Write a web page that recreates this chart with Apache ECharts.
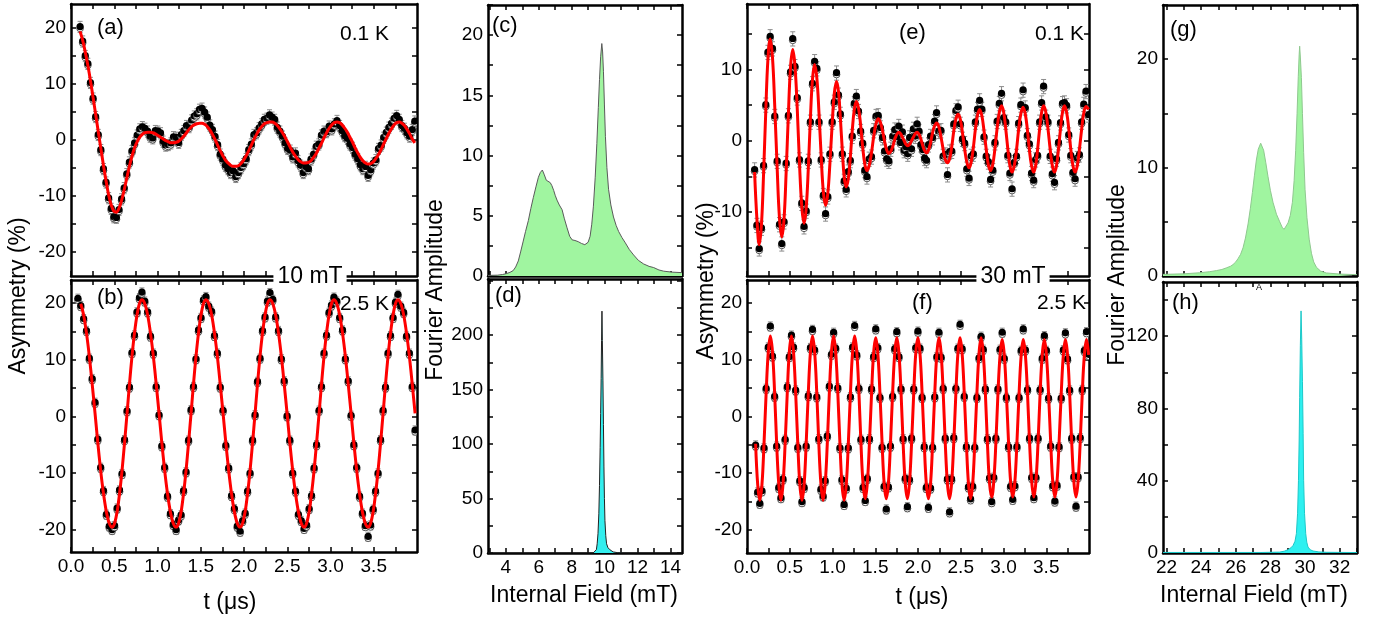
<!DOCTYPE html>
<html><head><meta charset="utf-8">
<script src="https://cdn.jsdelivr.net/npm/echarts@6/dist/echarts.min.js"></script>
<style>html,body{margin:0;padding:0;background:#fff}#chart{width:1376px;height:618px}</style>
</head><body><div id="chart"></div>
<script>
// ---------- (a) 10 mT, 0.1 K : time (us), fit and data asymmetry (%) ----------
const tA = [0.105,0.135,0.165,0.195,0.225,0.255,0.285,0.315,0.345,0.375,
0.405,0.435,0.465,0.495,0.525,0.555,0.585,0.615,0.645,0.675,
0.705,0.735,0.765,0.795,0.825,0.855,0.885,0.915,0.945,0.975,
1.005,1.035,1.065,1.095,1.125,1.155,1.185,1.215,1.245,1.275,
1.305,1.335,1.365,1.395,1.425,1.455,1.485,1.515,1.545,1.575,
1.605,1.635,1.665,1.695,1.725,1.755,1.785,1.815,1.845,1.875,
1.905,1.935,1.965,1.995,2.025,2.055,2.085,2.115,2.145,2.175,
2.205,2.235,2.265,2.295,2.325,2.355,2.385,2.415,2.445,2.475,
2.505,2.535,2.565,2.595,2.625,2.655,2.685,2.715,2.745,2.775,
2.805,2.835,2.865,2.895,2.925,2.955,2.985,3.015,3.045,3.075,
3.105,3.135,3.165,3.195,3.225,3.255,3.285,3.315,3.345,3.375,
3.405,3.435,3.465,3.495,3.525,3.555,3.585,3.615,3.645,3.675,
3.705,3.735,3.765,3.795,3.825,3.855,3.885,3.915,3.945,3.975];
const fitA = [19.4,17.8,15.7,13.3,10.6,7.6,4.6,1.5,-1.5,-4.5,
-7.3,-9.8,-11.6,-12.7,-12.9,-12.2,-10.8,-8.9,-6.8,-4.7,
-2.9,-1.4,-0.3,0.5,1.0,1.3,1.4,1.4,1.3,1.1,
0.8,0.5,0.2,-0.1,-0.3,-0.5,-0.5,-0.4,-0.2,0.2,
0.7,1.3,1.9,2.4,2.7,2.9,3.0,3.0,2.8,2.4,
1.8,1.0,0.1,-0.9,-1.9,-2.8,-3.6,-4.1,-4.5,-4.7,
-4.7,-4.6,-4.2,-3.6,-2.8,-1.9,-0.9,0.1,1.0,1.8,
2.4,2.9,3.1,3.2,3.2,3.0,2.6,2.0,1.3,0.5,
-0.4,-1.3,-2.2,-2.9,-3.5,-3.9,-4.1,-4.1,-4.0,-3.7,
-3.1,-2.4,-1.5,-0.6,0.4,1.3,2.1,2.7,3.1,3.2,
3.1,2.7,2.1,1.4,0.5,-0.4,-1.4,-2.3,-3.1,-3.7,
-4.1,-4.3,-4.2,-3.9,-3.3,-2.6,-1.7,-0.7,0.3,1.2,
2.0,2.7,3.1,3.2,3.0,2.6,1.9,1.1,0.2,-0.5];
const datA = [20.2,17.6,15.0,13.6,10.2,7.4,4.1,0.9,-1.8,-5.2,
-7.6,-10.4,-12.3,-13.8,-13.9,-12.5,-10.6,-8.6,-6.1,-4.0,
-2.0,-0.6,0.8,1.9,2.3,2.0,1.5,0.6,0.3,1.6,
1.5,1.2,-0.3,-1.0,-0.9,-0.6,0.5,0.4,-0.5,0.9,
1.6,2.5,2.3,3.5,4.2,4.6,5.4,5.6,4.9,4.0,
2.6,1.8,0.6,-0.9,-2.6,-3.5,-4.6,-5.2,-5.9,-5.6,
-6.6,-5.9,-5.0,-4.3,-3.4,-1.8,-0.8,0.9,1.2,2.1,
2.8,3.6,3.8,4.4,4.0,3.6,2.2,1.5,0.6,-0.6,
-1.6,-1.9,-3.1,-2.4,-3.8,-4.6,-5.9,-4.8,-5.2,-3.5,
-2.6,-1.2,-0.8,0.8,1.5,1.4,2.4,1.9,2.8,3.4,
2.5,1.6,0.7,0.2,-0.8,-1.4,-2.6,-3.4,-4.5,-5.2,
-4.8,-6.4,-5.4,-4.2,-3.6,-1.6,-1.0,0.4,1.3,2.2,
2.9,3.8,4.3,3.6,2.5,2.0,1.2,0.6,1.8,3.3];
const errA = 1.0;

// ---------- (b) 10 mT, 2.5 K ----------
const tB = [0.08,0.113,0.146,0.179,0.212,0.245,0.278,0.31,0.343,0.376,0.409,0.442,
0.475,0.504,0.533,0.561,0.59,0.619,0.648,0.676,0.705,0.734,0.763,0.791,
0.82,0.853,0.886,0.919,0.952,0.985,1.018,1.05,1.083,1.116,1.149,1.182,
1.215,1.244,1.273,1.301,1.33,1.359,1.388,1.416,1.445,1.474,1.503,1.531,
1.56,1.593,1.626,1.659,1.692,1.725,1.758,1.79,1.823,1.856,1.889,1.922,
1.955,1.984,2.013,2.041,2.07,2.099,2.128,2.156,2.185,2.214,2.243,2.271,
2.3,2.333,2.366,2.399,2.432,2.465,2.498,2.53,2.563,2.596,2.629,2.662,
2.695,2.724,2.753,2.781,2.81,2.839,2.868,2.896,2.925,2.954,2.983,3.011,
3.04,3.073,3.106,3.139,3.172,3.205,3.238,3.27,3.303,3.336,3.369,3.402,
3.435,3.464,3.493,3.521,3.55,3.579,3.608,3.636,3.665,3.694,3.723,3.751,
3.78,3.813,3.846,3.879,3.912,3.945,3.978];
const fitB = [null,19.9,17.9,14.7,10.6,5.7,0.5,-4.7,-9.6,-13.7,-16.9,-18.9,
-19.6,-18.9,-16.9,-13.7,-9.6,-4.7,0.5,5.7,10.6,14.7,17.9,19.9,
20.6,19.9,17.9,14.7,10.6,5.7,0.5,-4.7,-9.6,-13.7,-16.9,-18.9,
-19.6,-18.9,-16.9,-13.7,-9.6,-4.7,0.5,5.7,10.6,14.7,17.9,19.9,
20.6,19.9,17.9,14.7,10.6,5.7,0.5,-4.7,-9.6,-13.7,-16.9,-18.9,
-19.6,-18.9,-16.9,-13.7,-9.6,-4.7,0.5,5.7,10.6,14.7,17.9,19.9,
20.6,19.9,17.9,14.7,10.6,5.7,0.5,-4.7,-9.6,-13.7,-16.9,-18.9,
-19.6,-18.9,-16.9,-13.7,-9.6,-4.7,0.5,5.7,10.6,14.7,17.9,19.9,
20.6,19.9,17.9,14.7,10.6,5.7,0.5,-4.7,-9.6,-13.7,-16.9,-18.9,
-19.6,-18.9,-16.9,-13.7,-9.6,-4.7,0.5,5.7,10.6,14.7,17.9,19.9,
20.6,19.9,17.9,14.7,10.6,5.7,0.5];
const datB = [20.8,19.5,17.2,15.1,10.2,6.6,2.4,-4.1,-9.1,-13.2,-17.4,-19.5,
-20.1,-19.4,-16.3,-13.1,-10.2,-4.2,0.9,5.1,11.2,14.3,18.4,20.9,
21.9,20.3,18.4,14.1,11.1,5.2,0.2,-5.3,-9.1,-14.2,-17.3,-19.2,
-20.1,-18.4,-17.5,-13.2,-9.9,-4.3,1.1,5.2,10.1,15.2,17.4,20.5,
21.1,19.4,18.5,14.2,11.1,5.1,1.0,-5.2,-9.2,-14.1,-16.4,-19.5,
-20.4,-18.5,-17.2,-13.3,-10.1,-4.3,0.2,6.1,10.2,15.1,17.5,20.3,
21.8,20.6,17.5,15.1,10.1,6.2,0.0,-4.3,-10.1,-13.3,-17.4,-18.5,
-19.9,-19.3,-16.4,-14.1,-9.2,-5.1,1.0,5.2,11.1,14.3,18.3,19.6,
21.0,20.3,17.4,15.2,10.1,6.2,0.1,-5.1,-9.1,-14.2,-17.2,-19.4,
-21.3,-19.3,-16.5,-13.3,-10.1,-4.2,1.0,5.1,11.1,14.2,17.4,20.1,
21.5,19.4,18.3,14.1,11.1,5.2,-2.5];
const errB = 0.8;

// ---------- (e) 30 mT, 0.1 K ----------
const tE = [0.089,0.116,
0.143,0.169,0.194,0.22,0.245, 0.271,0.298,0.325,0.353,0.38,
0.407,0.433,0.458,0.484,0.509, 0.535,0.561,0.588,0.614,0.641,
0.667,0.692,0.717,0.741,0.766, 0.791,0.817,0.842,0.868,0.893,
0.919,0.945,0.97,0.996,1.021, 1.047,1.07,1.092,1.115,1.137,
1.16,1.184,1.208,1.231,1.255, 1.279,1.304,1.329,1.353,1.378,
1.403,1.429,1.456,1.482,1.509, 1.535,1.56,1.585,1.609,1.634,
1.659,1.682,1.705,1.729,1.752, 1.775,1.796,1.817,1.838,1.859,
1.88,1.902,1.924,1.946,1.968, 1.99,2.012,2.034,2.056,2.078,
2.1,2.123,2.147,2.17,2.194, 2.217,2.243,2.268,2.294,2.319,
2.345,2.37,2.395,2.419,2.444, 2.469,2.495,2.52,2.546,2.571,
2.597,2.622,2.647,2.671,2.696, 2.721,2.747,2.772,2.798,2.823,
2.849,2.875,2.9,2.926,2.951, 2.977,3.002,3.026,3.051,3.075,
3.1,3.126,3.152,3.177,3.203, 3.229,3.254,3.279,3.303,3.328,
3.353,3.376,3.399,3.423,3.446, 3.469,3.495,3.52,3.546,3.571,
3.597,3.62,3.643,3.667,3.69, 3.713,3.738,3.763,3.787,3.812,
3.837,3.863,3.888,3.914,3.939, 3.965,3.995];
const fitE = [-4.4,-11.0,
-14.6,-11.8,-4.6,4.3,11.5, 14.3,11.7,4.7,-3.9,-10.9,
-13.5,-11.0,-4.4,3.7,10.3, 12.8,10.5,4.4,-3.2,-9.3,
-11.6,-9.5,-3.9,3.0,8.6, 10.7,8.8,3.9,-2.3,-7.2,
-9.1,-7.4,-3.1,2.3,6.6, 8.3,6.9,3.2,-1.4,-5.1,
-6.5,-5.4,-2.4,1.4,4.4, 5.5,4.6,2.2,-0.9,-3.3,
-4.2,-3.5,-1.7,0.6,2.4, 3.1,2.6,1.4,-0.1,-1.3,
-1.8,-1.5,-0.8,0.2,0.9, 1.2,1.0,0.5,0.0,-0.5,
-0.7,-0.5,0.0,0.5,1.0, 1.2,0.9,0.2,-0.7,-1.4,
-1.7,-1.3,-0.3,1.1,2.1, 2.5,2.0,0.6,-1.2,-2.6,
-3.1,-2.5,-0.8,1.4,3.1, 3.7,3.0,1.1,-1.2,-3.0,
-3.8,-3.0,-1.0,1.6,3.6, 4.4,3.5,1.4,-1.2,-3.4,
-4.2,-3.3,-1.1,1.8,4.0, 4.9,4.0,1.7,-1.2,-3.5,
-4.4,-3.5,-1.3,1.6,3.8, 4.7,3.8,1.6,-1.3,-3.5,
-4.4,-3.5,-1.2,1.7,4.0, 4.9,4.0,1.7,-1.2,-3.5,
-4.4,-3.5,-1.2,1.7,4.0, 4.9,4.0,1.7,-1.2,-3.5,
-4.4,-3.5,-1.2,1.6,3.9, 4.8,4.4];
const datE = [-4.1,-11.9,
-15.2,-12.3,-3.5,5.0,12.4, 14.6,12.9,3.4,-2.9,-11.8,
-14.5,-11.4,-3.2,3.5,9.6, 14.3,10.4,6.0,-2.7,-8.8,
-12.1,-9.9,-2.9,2.6,8.0, 11.1,10.1,2.6,-2.7,-7.7,
-10.3,-7.9,-1.9,2.6,5.4, 9.5,6.4,3.7,-1.9,-5.7,
-6.9,-4.4,-2.8,0.6,5.2, 6.2,4.1,1.3,-0.4,-4.2,
-5.1,-2.6,-2.3,1.4,3.4, 3.5,1.8,0.4,-1.5,-2.6,
-2.9,-1.2,0.6,1.5,0.5, 2.0,-0.3,1.2,-1.4,-0.9,
-1.9,0.4,-1.2,1.6,0.6, 2.3,1.3,-0.6,-1.3,-2.5,
-2.8,-0.6,0.6,0.4,2.7, 3.9,1.3,1.4,-2.2,-2.0,
-4.8,-1.6,-1.5,2.3,4.2, 4.7,2.3,0.2,-0.4,-4.0,
-5.3,-2.2,-1.9,2.6,4.4, 5.6,4.4,0.5,-2.2,-3.0,
-5.5,-4.2,-0.3,2.7,5.2, 6.6,3.2,2.6,-2.1,-4.6,
-6.8,-3.1,-2.2,2.4,5.0, 7.1,4.6,0.7,-0.5,-4.6,
-5.6,-2.7,-2.1,2.6,5.3, 7.6,3.3,2.6,-2.2,-4.7,
-5.9,-2.6,-0.3,2.5,5.2, 5.3,4.9,0.8,-2.1,-4.5,
-5.4,-2.5,-2.0,2.6,5.1, 6.9,3.6];
const errE = 1.0;

// ---------- (f) 30 mT, 2.5 K ----------
const tF = [0.101,0.125,
0.15,0.175,0.199,0.224,0.249,0.273,0.298,0.323,0.347,0.372,
0.397,0.421,0.446,0.471,0.495,0.52,0.544,0.569,0.594,0.618,
0.643,0.668,0.692,0.717,0.742,0.766,0.791,0.816,0.84,0.865,
0.89,0.914,0.939,0.963,0.988,1.013,1.037,1.062,1.087,1.111,
1.136,1.161,1.185,1.21,1.235,1.259,1.284,1.309,1.333,1.358,
1.383,1.407,1.432,1.457,1.481,1.506,1.53,1.555,1.58,1.604,
1.629,1.654,1.678,1.703,1.728,1.752,1.777,1.802,1.826,1.851,
1.876,1.9,1.925,1.95,1.974,1.999,2.023,2.048,2.073,2.097,
2.122,2.147,2.171,2.196,2.221,2.245,2.27,2.295,2.319,2.344,
2.369,2.393,2.418,2.443,2.467,2.492,2.516,2.541,2.566,2.59,
2.615,2.64,2.664,2.689,2.714,2.738,2.763,2.788,2.812,2.837,
2.862,2.886,2.911,2.935,2.96,2.985,3.009,3.034,3.059,3.083,
3.108,3.133,3.157,3.182,3.207,3.231,3.256,3.281,3.305,3.33,
3.355,3.379,3.404,3.428,3.453,3.478,3.502,3.527,3.552,3.576,
3.601,3.626,3.65,3.675,3.7,3.724,3.749,3.774,3.798,3.823,
3.848,3.872,3.897,3.921,3.946,3.971,3.995];
const fitF = [-4.8,-12.0,
-14.8,-12.0,-4.8,4.2,11.4,14.2,11.4,4.2,-4.8,-12.0,
-14.8,-12.0,-4.8,4.2,11.4,14.2,11.4,4.2,-4.8,-12.0,
-14.8,-12.0,-4.8,4.2,11.4,14.2,11.4,4.2,-4.8,-12.0,
-14.8,-12.0,-4.8,4.2,11.4,14.2,11.4,4.2,-4.8,-12.0,
-14.8,-12.0,-4.8,4.2,11.4,14.2,11.4,4.2,-4.8,-12.0,
-14.5,-11.8,-4.7,4.1,11.2,13.9,11.2,4.1,-4.7,-11.8,
-14.5,-11.8,-4.7,4.1,11.2,13.9,11.2,4.1,-4.7,-11.8,
-14.5,-11.8,-4.7,4.1,11.2,13.9,11.2,4.1,-4.7,-11.8,
-14.5,-11.8,-4.7,4.1,11.2,13.9,11.2,4.1,-4.7,-11.8,
-14.5,-11.8,-4.7,4.1,11.2,13.9,11.2,4.1,-4.7,-11.8,
-14.5,-11.8,-4.7,4.1,11.2,13.9,11.2,4.1,-4.7,-11.8,
-14.2,-11.5,-4.6,4.0,10.9,13.6,10.9,4.0,-4.6,-11.5,
-14.2,-11.5,-4.6,4.0,10.9,13.6,10.9,4.0,-4.6,-11.5,
-14.2,-11.5,-4.6,4.0,10.9,13.6,10.9,4.0,-4.6,-11.5,
-14.2,-11.5,-4.6,4.0,10.9,13.6,10.9,4.0,-4.6,-11.5,
-14.2,-11.5,-4.6,4.0,10.9,13.6,10.9];
const datF = [-5.1,-13.4,
-15.4,-13.2,-5.6,4.9,12.2,15.9,10.6,3.5,-5.3,-12.6,
-14.4,-11.1,-4.1,5.2,10.5,14.3,12.2,4.6,-5.5,-11.4,
-15.1,-12.6,-5.3,3.6,12.1,15.3,11.7,3.4,-4.0,-12.9,
-14.1,-11.4,-3.5,5.3,10.9,14.8,12.0,5.0,-5.6,-11.2,
-15.6,-12.7,-5.6,3.4,12.2,16.0,10.8,4.9,-4.1,-12.6,
-14.9,-11.0,-4.0,4.8,10.5,15.4,12.1,3.3,-5.5,-12.4,
-16.4,-12.5,-5.3,3.5,11.9,14.9,10.5,4.8,-4.0,-11.0,
-16.0,-11.2,-3.9,4.8,12.1,15.0,12.0,3.3,-5.4,-12.6,
-16.1,-12.7,-5.5,3.4,10.5,14.8,10.4,4.9,-3.9,-11.1,
-16.9,-11.1,-3.8,4.9,12.0,16.2,11.9,3.5,-5.4,-12.5,
-14.6,-12.4,-5.5,3.3,10.3,14.1,11.8,4.8,-4.0,-10.9,
-15.1,-10.8,-3.9,4.8,11.8,14.8,10.2,3.3,-5.4,-12.4,
-14.7,-12.3,-5.4,3.3,11.6,15.4,11.7,4.7,-3.9,-10.8,
-14.4,-10.8,-3.9,4.7,10.2,14.2,11.6,3.2,-5.3,-12.3,
-15.0,-12.2,-5.4,3.2,11.7,14.7,10.1,4.6,-3.9,-10.7,
-15.9,-10.7,-3.8,4.7,11.6,14.9,10.9];
const errF = 0.8;

// ---------- Fourier spectra: internal field (mT) and amplitude ----------
const fieldC = [2.92,3.5,3.8,4.04,4.25,4.45,4.6,4.76,4.9,5.06,5.2,5.37,5.52,5.67,5.83,5.98,6.1,6.22,6.34,6.46,6.58,6.7,6.8,6.91,7.0,7.11,7.25,7.42,7.55,7.72,7.88,8.03,8.2,8.4,8.6,8.8,8.9,9.0,9.12,9.22,9.32,9.43,9.53,9.62,9.69,9.76,9.83,9.88,9.93,9.99,10.05,10.14,10.24,10.38,10.54,10.7,10.85,11.05,11.26,11.5,11.76,12.05,12.37,12.7,12.98,13.3,13.59,14.1,14.7];
const ampC = [0.05,0.07,0.12,0.2,0.3,0.45,0.75,1.25,2.0,2.9,3.7,4.6,5.6,6.5,7.4,8.2,8.6,8.8,8.4,7.95,7.9,7.75,7.5,7.1,6.7,6.3,5.9,5.5,4.8,4.0,3.3,3.0,2.95,2.85,2.7,2.6,2.6,2.8,3.3,4.3,5.8,8.2,11.0,14.0,16.3,18.2,19.3,18.6,17.0,14.2,11.6,9.0,7.2,5.9,4.9,4.2,3.7,3.2,2.75,2.2,1.75,1.3,1.0,0.8,0.7,0.5,0.4,0.32,0.28];
const fieldD = [2.92,9.3,9.41,9.5,9.55,9.6,9.65,9.69,9.73,9.76,9.79,9.815,9.84,9.865,9.9,9.93,9.96,9.99,10.02,10.07,10.12,10.2,10.32,10.52,10.8,11.2,14.7];
const ampD = [0,0,0.6,3,8.5,18,36,62,97,128,160,195,222,195,158,118,79,50,30,16,8.5,5,3,1,0.3,0,0];
const fieldG = [21.8,23.0,23.92,24.5,24.89,25.2,25.46,25.7,25.84,26.0,26.13,26.28,26.42,26.56,26.71,26.84,26.96,27.08,27.19,27.3,27.44,27.52,27.61,27.73,27.86,28.0,28.15,28.35,28.54,28.68,28.79,28.9,29.02,29.15,29.27,29.37,29.46,29.54,29.61,29.66,29.69,29.73,29.79,29.85,29.92,30.0,30.11,30.24,30.37,30.5,30.66,30.9,31.23,32.0,33.0];
const ampG = [0.15,0.2,0.3,0.4,0.5,0.6,0.75,0.9,1.05,1.3,1.6,2.0,2.6,3.5,4.8,6.2,7.7,9.3,10.7,11.7,12.25,12.1,11.6,10.5,9.2,7.9,6.8,5.7,5.0,4.5,4.3,4.4,4.9,5.6,6.8,8.8,11.6,15.0,18.4,20.4,21.2,20.2,18.3,15.0,11.4,8.0,5.4,3.4,2.1,1.3,0.8,0.45,0.28,0.18,0.12];
const fieldH = [21.8,27.5,28.54,28.8,29.02,29.2,29.31,29.42,29.5,29.57,29.62,29.66,29.69,29.73,29.77,29.81,29.85,29.89,29.92,29.97,30.04,30.1,30.17,30.3,30.46,30.8,31.23,33.0];
const ampH = [0.3,0.3,0.5,1.0,1.8,3.0,4.2,6.5,10.7,22,40,62,86,115,134,118,95,66,40,22,10.7,6,3.3,1.8,1.1,0.6,0.4,0.25];

// ---------- tick positions and labelled values ----------
const tickT = [0,0.25,0.5,0.75,1,1.25,1.5,1.75,2,2.25,2.5,2.75,3,3.25,3.5,3.75];
const labelT = [0,0.5,1,1.5,2,2.5,3,3.5];
const tickAsym = [-20,-15,-10,-5,0,5,10,15,20];
const labelAsym = [-20,-10,0,10,20];
const tickAsymE = [-15,-10,-5,0,5,10,15];
const labelAsymE = [-10,0,10];
const tickField10 = [3,4,5,6,7,8,9,10,11,12,13,14];
const labelField10 = [4,6,8,10,12,14];
const tickField30 = [22,23,24,25,26,27,28,29,30,31,32,33];
const labelField30 = [22,24,26,28,30,32];
const tickC = [0,2.5,5,7.5,10,12.5,15,17.5,20,22.5];
const labelC = [0,5,10,15,20];
const tickD = [0,25,50,75,100,125,150,175,200,225,250];
const labelD = [0,50,100,150,200];
const tickG = [0,5,10,15,20,25];
const labelG = [0,10,20];
const tickH = [0,20,40,60,80,100,120,140];
const labelH = [0,40,80,120];

const FONT = '"Liberation Sans", Arial, Helvetica, sans-serif';
const grids = [], xAxes = [], yAxes = [], series = [];

function frameAxis(gi, pos, range, ticks, labels, fmt) {
  return {
    type: 'value', gridIndex: gi, position: pos, min: range[0], max: range[1],
    axisLine: {show: true, onZero: false, lineStyle: {color: '#000', width: 2.5}},
    axisTick: {show: true, inside: true, length: 5, customValues: ticks, lineStyle: {color: '#000', width: 1.5}},
    axisLabel: {show: !!labels, customValues: labels || [], formatter: fmt || (v => String(v)),
                color: '#000', fontSize: 19, fontFamily: FONT, margin: 5, hideOverlap: false},
    splitLine: {show: false}, minorTick: {show: false}
  };
}

function addPanel(box, xr, yr, xt, xl, yt, yl, xfmt) {
  const gi = grids.length;
  grids.push({left: box[0], top: box[1], width: box[2], height: box[3], containLabel: false, outerBoundsMode: 'none'});
  xAxes.push(frameAxis(gi, 'bottom', xr, xt, xl, xfmt));
  xAxes.push(frameAxis(gi, 'top', xr, xt, null));
  yAxes.push(frameAxis(gi, 'left', yr, yt, yl));
  yAxes.push(frameAxis(gi, 'right', yr, yt, null));
  return 2 * gi;
}

// grey error bar with short caps
function errorBar(params, api) {
  const x = api.value(0), y = api.value(1), e = api.value(2);
  const lo = api.coord([x, y - e]), hi = api.coord([x, y + e]);
  const st = {stroke: '#8c8c8c', lineWidth: 1};
  return {type: 'group', children: [
    {type: 'line', shape: {x1: lo[0], y1: lo[1], x2: hi[0], y2: hi[1]}, style: st},
    {type: 'line', shape: {x1: lo[0] - 2.5, y1: lo[1], x2: lo[0] + 2.5, y2: lo[1]}, style: st},
    {type: 'line', shape: {x1: hi[0] - 2.5, y1: hi[1], x2: hi[0] + 2.5, y2: hi[1]}, style: st}
  ]};
}
// black marker with a hollow lower rim
function halfDot(params, api) {
  const p = api.coord([api.value(0), api.value(1)]);
  return {type: 'group', children: [
    {type: 'circle', shape: {cx: p[0], cy: p[1] + 1.4, r: 3.4}, style: {fill: '#fff', stroke: '#444', lineWidth: 0.9}},
    {type: 'circle', shape: {cx: p[0], cy: p[1] - 0.4, r: 3.6}, style: {fill: '#000'}}
  ]};
}

function timeSeries(ai, t, fit, dat, err, smooth) {
  const pts = t.map((x, i) => [x, dat[i], err]);
  series.push({type: 'custom', xAxisIndex: ai, yAxisIndex: ai, clip: true, silent: true, z: 2, data: pts, renderItem: errorBar});
  series.push({type: 'custom', xAxisIndex: ai, yAxisIndex: ai, clip: true, silent: true, z: 3, data: pts, renderItem: halfDot});
  series.push({type: 'line', xAxisIndex: ai, yAxisIndex: ai, clip: true, silent: true, z: 4,
    data: t.map((x, i) => [x, fit[i]]).filter(p => p[1] !== null),
    symbol: 'none', smooth: smooth, lineStyle: {color: '#ff0000', width: 3}});
}
function spectrum(ai, f, a, line, fill) {
  series.push({type: 'line', xAxisIndex: ai, yAxisIndex: ai, clip: true, silent: true, z: 2,
    data: f.map((x, i) => [x, a[i]]), symbol: 'none',
    lineStyle: {color: line, width: 1}, areaStyle: {color: fill, opacity: 1}});
}

const fmtT = v => v.toFixed(1);
const rT = [0, 4.0], r10 = [2.92, 14.7], r30 = [21.8, 33];

const pa = addPanel([71, 4, 346, 272], rT, [-24.3, 24.3], tickT, null, tickAsym, labelAsym);
const pb = addPanel([71, 280, 346, 272], rT, [-24, 24.1], tickT, labelT, tickAsym, labelAsym, fmtT);
const pc = addPanel([488, 5, 194, 271], r10, [0, 22.5], tickField10, null, tickC, labelC);
const pd = addPanel([488, 279, 194, 274], r10, [0, 251.5], tickField10, labelField10, tickD, labelD);
const pe = addPanel([747, 4, 342, 272], rT, [-19, 19.2], tickT, null, tickAsymE, labelAsymE);
const pf = addPanel([747, 280, 342, 273], rT, [-24.1, 24.1], tickT, labelT, tickAsym, labelAsym, fmtT);
const pg = addPanel([1163, 5, 194, 271], r30, [0, 25], tickField30, null, tickG, labelG);
const ph = addPanel([1163, 282, 194, 271], r30, [0, 150], tickField30, labelField30, tickH, labelH);

timeSeries(pa, tA, fitA, datA, errA, 0.3);
timeSeries(pb, tB, fitB, datB, errB, 0.3);
timeSeries(pe, tE, fitE, datE, errE, 0.4);
timeSeries(pf, tF, fitF, datF, errF, 0.4);
spectrum(pc, fieldC, ampC, '#5a5a5a', '#a0f5a0');
spectrum(pd, fieldD, ampD, '#222222', '#33eeee');
spectrum(pg, fieldG, ampG, '#8fc88f', '#a0f5a0');
spectrum(ph, fieldH, ampH, '#1cc8c8', '#2ef0f0');

function txt(text, x, y, size, opts) {
  opts = opts || {};
  const align = opts.align || 'left';
  return {type: 'text', x: x, y: y, rotation: opts.rot || 0, z: 100, silent: true,
    style: {text: text, font: size + 'px ' + FONT, fill: '#000',
      textAlign: align, align: align, textVerticalAlign: 'middle', verticalAlign: 'middle',
      backgroundColor: opts.bg, padding: opts.bg ? [0, 4] : 0}};
}
const graphics = [
  txt('Asymmetry (%)', 19, 296, 23, {rot: Math.PI / 2, align: 'center'}),
  txt('Fourier Amplitude', 436, 290, 23, {rot: Math.PI / 2, align: 'center'}),
  txt('Asymmetry (%)', 707, 281, 23, {rot: Math.PI / 2, align: 'center'}),
  txt('Fourier Amplitude', 1118, 275, 23, {rot: Math.PI / 2, align: 'center'}),
  txt('t (\u03bcs)', 230, 603, 23, {align: 'center'}),
  txt('Internal Field (mT)', 584, 596, 23, {align: 'center'}),
  txt('t (\u03bcs)', 922, 598, 23, {align: 'center'}),
  txt('Internal Field (mT)', 1254, 596, 23, {align: 'center'}),
  txt('(a)', 97, 28, 22), txt('0.1 K', 340, 34, 21),
  txt('(b)', 97, 298, 22), txt('2.5 K', 340, 304, 21),
  txt('(c)', 492, 26, 22), txt('(d)', 495, 296, 22),
  txt('(e)', 899, 33, 22), txt('0.1 K', 1035, 34, 21),
  txt('(f)', 912, 303, 22), txt('2.5 K', 1037, 303, 21),
  txt('(g)', 1170, 30, 22), txt('(h)', 1172, 303, 22),
  txt('10 mT', 310, 277, 23, {align: 'center', bg: '#fff'}),
  txt('30 mT', 1013, 277, 23, {align: 'center', bg: '#fff'}),
  txt('A', 1259, 288, 9, {align: 'center'})
];

const chart = echarts.init(document.getElementById('chart'), null, {renderer: 'canvas'});
chart.setOption({
  animation: false, backgroundColor: '#fff',
  grid: grids, xAxis: xAxes, yAxis: yAxes, series: series, graphic: graphics
});
</script></body></html>
